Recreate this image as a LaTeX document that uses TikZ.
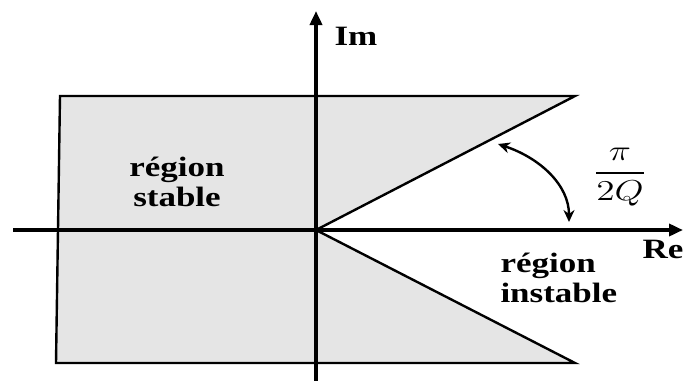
\documentclass[tikz,border=0pt]{standalone}
\usepackage{fontspec}
\setmainfont{Liberation Serif}
\usepackage{amsmath}
\usepackage{tikz}
\usetikzlibrary{arrows.meta}
\definecolor{regiongray}{RGB}{229,229,229}

\begin{document}
\begin{tikzpicture}[x=0.5pt,y=-0.5pt,
  axisline/.style={line width=2pt,-{Triangle[length=7pt,width=6pt]}},
  border/.style={line width=1.2pt,line join=miter},
  lbl/.style={font=\fontsize{14}{15}\selectfont\bfseries,xscale=1.25,inner sep=0pt}]
  \useasboundingbox (0,0) rectangle (684,380);

  % ── Stable region ──
  \coordinate (O) at (316,230);
  \coordinate (tl) at (60,96);
  \coordinate (tr) at (575,96);
  \coordinate (br) at (575,363);
  \coordinate (bl) at (56,363);
  \filldraw[fill=regiongray,draw=black,border] (tl) -- (tr) -- (O) -- (br) -- (bl) -- cycle;

  % ── Axes ──
  \coordinate (xs) at (13,230);
  \coordinate (xe) at (683,230);
  \coordinate (ys) at (316,382);
  \coordinate (ye) at (316,11);
  \draw[axisline] (xs) -- (xe);
  \draw[axisline] (ys) -- (ye);
  \node[lbl,anchor=base west] (im) at (334,45) {Im};
  \node[lbl,anchor=base west] (re) at (642,258) {Re};

  % ── Region labels ──
  \node[lbl,align=center] (stable) at (177,182) {région\\stable};
  \node[lbl,align=left,anchor=west] (instable) at (500,278) {région\\instable};

  % ── Angle ──
  \coordinate (a1) at (498,144);
  \coordinate (a2) at (569,222);
  \draw[line width=1.2pt,{Stealth[length=6pt,width=5.5pt]}-{Stealth[length=6pt,width=5.5pt]}]
       (a1) .. controls (540,158) and (569,185) .. (a2);
  \node[font=\fontsize{14}{15}\selectfont,xscale=1.3] (angle) at (620,177) {$\dfrac{\pi}{2Q}$};
\end{tikzpicture}
\end{document}
